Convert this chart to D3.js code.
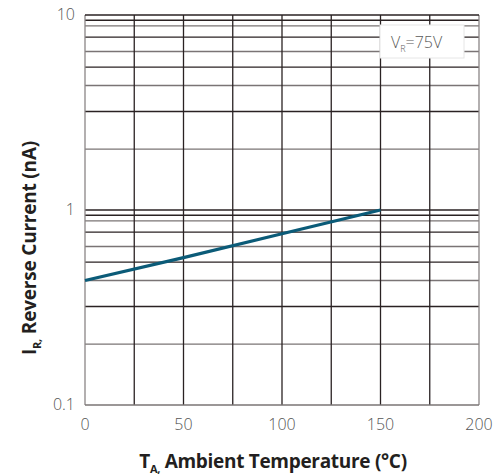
<!DOCTYPE html>
<head>
<meta charset="UTF-8">
<script src="https://d3js.org/d3.v7.min.js"></script>
<style>
  body { margin: 0; background: #fff; }
  text { font-family: "Open Sans", "Noto Sans", sans-serif; }
</style>
</head>
<body>
<div id="my_dataviz"></div>
<script>

// data
var temps = [0, 50, 100, 150];
var current = [0.435, 0.57, 0.755, 1.0];

var xTicks = [0, 50, 100, 150, 200];
var xGrid = [0, 25, 50, 75, 100, 125, 150, 175, 200];
var yTicks = [0.1, 1, 10];
var yTickLabels = ["0.1", "1", "10"];
// the datasheet grid is not a true log grid, these are where its lines sit
var yMinor = [9.4, 8.8, 7.7, 6.5, 5.4, 4.35, 3.2, 2.05,
              0.94, 0.88, 0.77, 0.65, 0.54, 0.435, 0.32, 0.205];

var margin = {top: 15, right: 25, bottom: 71, left: 85},
    width = 504 - margin.left - margin.right,
    height = 476 - margin.top - margin.bottom;

var svg = d3.select("#my_dataviz")
  .append("svg")
    .attr("width", 504)
    .attr("height", 476)
  .append("g")
    .attr("transform", "translate(" + margin.left + "," + margin.top + ")");

var x = d3.scaleLinear().domain([0, 200]).range([0, width]);
var y = d3.scaleLog().domain([0.1, 10]).range([height, 0]);

// horizontal grid
svg.selectAll(".hgrid")
  .data(yMinor.concat([1]))
  .enter()
  .append("line")
    .attr("x1", 0).attr("x2", width)
    .attr("y1", function(d) { return y(d); })
    .attr("y2", function(d) { return y(d); })
    .style("stroke", function(d, i) { return i % 2 ? "#7a7475" : "#2a2223"; })
    .style("stroke-width", 1.3);

// vertical grid
svg.selectAll(".vgrid")
  .data(xGrid)
  .enter()
  .append("line")
    .attr("x1", function(d) { return x(d); })
    .attr("x2", function(d) { return x(d); })
    .attr("y1", 0).attr("y2", height)
    .style("stroke", function(d) { return (d == 0 || d == 200) ? "#8a8586" : "#2a2223"; })
    .style("stroke-width", 1.3);

// top and bottom border
svg.append("line")
  .attr("x1", 0).attr("x2", width)
  .attr("y1", y(10)).attr("y2", y(10))
  .style("stroke", "#2a2223").style("stroke-width", 1.3);
svg.append("line")
  .attr("x1", 0).attr("x2", width)
  .attr("y1", y(0.1)).attr("y2", y(0.1))
  .style("stroke", "#7a7475").style("stroke-width", 1.5);

// the curve
var line = d3.line()
  .x(function(d, i) { return x(temps[i]); })
  .y(function(d) { return y(d); });

svg.append("path")
  .datum(current)
  .attr("d", line)
  .style("fill", "none")
  .style("stroke", "#0b5b78")
  .style("stroke-width", 3.2);

// condition box
svg.append("rect")
  .attr("x", 295).attr("y", 10)
  .attr("width", 84).attr("height", 33)
  .style("fill", "#fff")
  .style("stroke", "#e6e6e6");

var cond = svg.append("text")
  .attr("x", 306).attr("y", 33)
  .style("font-size", "16px")
  .style("font-weight", 300)
  .style("fill", "#5a5a5a");
cond.append("tspan").text("V");
cond.append("tspan").attr("dy", 4).style("font-size", "9px").text("R");
cond.append("tspan").attr("dy", -4).text("=75V");

// tick labels
svg.selectAll(".xlab")
  .data(xTicks)
  .enter()
  .append("text")
    .attr("x", function(d) { return x(d); })
    .attr("y", height + 25)
    .attr("text-anchor", "middle")
    .style("font-size", "16px")
    .style("font-weight", 300)
    .style("fill", "#555")
    .text(function(d) { return d; });

svg.selectAll(".ylab")
  .data(yTicks)
  .enter()
  .append("text")
    .attr("x", -10)
    .attr("y", function(d) { return y(d) + 5; })
    .attr("text-anchor", "end")
    .style("font-size", "16px")
    .style("font-weight", 300)
    .style("fill", "#555")
    .text(function(d, i) { return yTickLabels[i]; });

// axis titles
var xt = svg.append("text")
  .attr("x", 188)
  .attr("y", height + 63)
  .attr("text-anchor", "middle")
  .style("font-size", "19px")
  .style("font-weight", "bold")
  .style("letter-spacing", "-0.3px")
  .style("fill", "#231f20");
xt.append("tspan").text("T");
xt.append("tspan").attr("dy", 5).style("font-size", "11px").text("A,");
xt.append("tspan").attr("dy", -5).text(" Ambient Temperature (°C)");

var yt = svg.append("text")
  .attr("transform", "translate(-49," + 233 + ") rotate(-90)")
  .attr("text-anchor", "middle")
  .style("font-size", "19px")
  .style("font-weight", "bold")
  .style("letter-spacing", "-0.2px")
  .style("fill", "#231f20");
yt.append("tspan").text("I");
yt.append("tspan").attr("dy", 5).style("font-size", "11px").text("R,");
yt.append("tspan").attr("dy", -5).text(" Reverse Current (nA)");

</script>
</body>
